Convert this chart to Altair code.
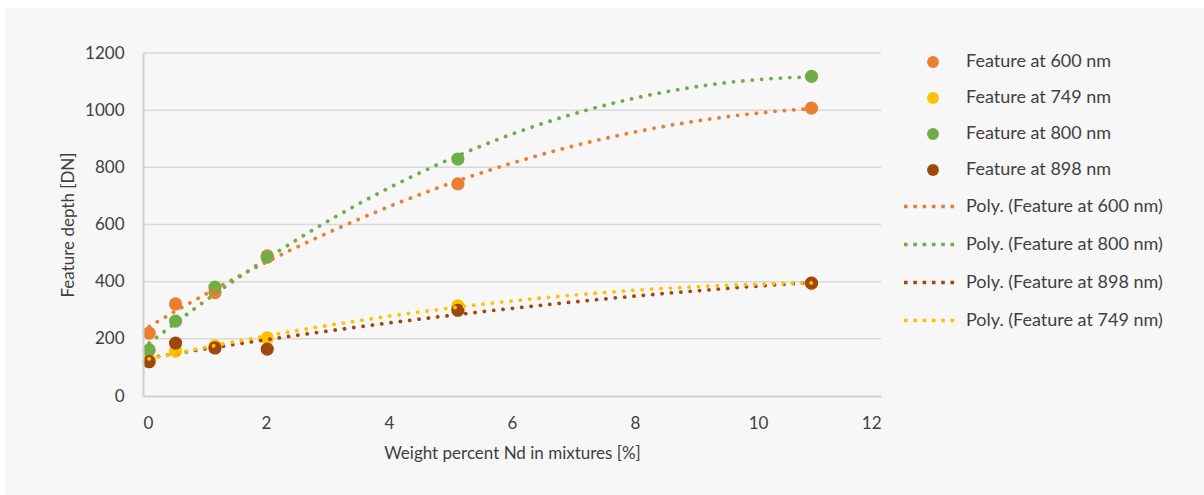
import altair as alt
import pandas as pd

# Measured absorption feature depths vs. Nd content
weights = [0.10, 0.53, 1.17, 2.02, 5.12, 10.87]
series_names = ["Feature at 600 nm", "Feature at 749 nm", "Feature at 800 nm", "Feature at 898 nm"]
depth_600 = [220, 322, 362, 490, 742, 1007]
depth_749 = [128, 157, 175, 203, 315, 395]
depth_800 = [161, 262, 381, 486, 829, 1118]
depth_898 = [120, 185, 168, 164, 300, 395]

x_ticks = [0, 2, 4, 6, 8, 10, 12]
y_ticks = [0, 200, 400, 600, 800, 1000, 1200]

point_colors = ["#ED7D31", "#FFC000", "#70AD47", "#9E480E"]
# trendline legend order
poly_series = ["Feature at 600 nm", "Feature at 800 nm", "Feature at 898 nm", "Feature at 749 nm"]
poly_colors = ["#ED7D31", "#70AD47", "#9E480E", "#FFC000"]

rows = []
for name, vals in zip(series_names, [depth_600, depth_749, depth_800, depth_898]):
    for w, d in zip(weights, vals):
        rows.append({"series": name, "weight": w, "depth": d})
df = pd.DataFrame(rows)
grid_df = pd.DataFrame({"depth": y_ticks[1:]})

FONT = "Lato"
TEXT = "#404040"
PANEL = "#F8F7F7"

x_scale = alt.Scale(domain=[0, 12], nice=False)
y_scale = alt.Scale(domain=[0, 1200], nice=False)

x_enc = alt.X("weight:Q", title="Weight percent Nd in mixtures [%]", scale=x_scale,
              axis=alt.Axis(values=x_ticks, grid=False, ticks=False, zindex=1,
                            format="d", labelPadding=19, titlePadding=14))
y_enc = alt.Y("depth:Q", title="Feature depth [DN]", scale=y_scale,
              axis=alt.Axis(values=y_ticks, grid=False, ticks=False, zindex=1,
                            format="d", labelPadding=19, titlePadding=7, domain=True))

base = alt.Chart(df)

# light panel behind the whole figure, inset from the top and left edges
panel = base.mark_rect(color=PANEL).encode(
    x=alt.value(-138), x2=alt.value(1070), y=alt.value(-45), y2=alt.value(450)
)

# horizontal gridlines at the y tick values
grid = alt.Chart(grid_df).mark_rule(color="#D9D9D9", strokeWidth=1.5).encode(
    y=y_enc,
    x=alt.value(0), x2=alt.value(738),
)

points = base.mark_circle(size=175, opacity=1).encode(
    x=x_enc,
    y=y_enc,
    fill=alt.Fill("series:N", sort=series_names,
                  scale=alt.Scale(domain=series_names, range=point_colors),
                  legend=alt.Legend(title=None, orient="none", legendX=781, legendY=0,
                                    symbolType="circle", symbolSize=140,
                                    labelOffset=24, rowPadding=18, padding=0)),
)

poly_labels = ["Poly. (" + s + ")" for s in poly_series]

lines = []
for s in poly_series:
    lines.append(
        base.transform_filter(alt.datum.series == s)
        .transform_regression("weight", "depth", method="poly", order=2, groupby=["series"])
        .transform_calculate(label="'Poly. (' + datum.series + ')'")
        .mark_line(strokeDash=[0.1, 9.3], strokeCap="round", strokeWidth=3.8)
        .encode(
            x=x_enc,
            y=y_enc,
            stroke=alt.Stroke("label:N",
                              scale=alt.Scale(domain=poly_labels, range=poly_colors),
                              legend=alt.Legend(title=None, orient="none", legendX=759, legendY=125,
                                                symbolType="stroke", symbolSize=2809,
                                                symbolDash=[3.6, 5.7], symbolStrokeWidth=3.6,
                                                labelOffset=7, rowPadding=-18.4, padding=0)),
        )
    )

chart = alt.layer(panel, grid, points, *lines).properties(
    width=738,
    height=343,
    autosize=alt.AutoSizeParams(type="none"),
    padding={"left": 143, "top": 53, "right": 323, "bottom": 99},
    background="#FFFFFF",
).configure_view(
    stroke=None,
).configure_axis(
    labelFont=FONT,
    titleFont=FONT,
    labelFontSize=17,
    titleFontSize=17,
    labelColor=TEXT,
    titleColor=TEXT,
    titleFontWeight="normal",
    domainColor="#D0D0D0",
    domainWidth=2,
).configure_legend(
    labelFont=FONT,
    labelFontSize=18,
    labelColor=TEXT,
    labelLimit=400,
)

chart.save("out.html", embed_options={"renderer": "svg", "actions": False})
